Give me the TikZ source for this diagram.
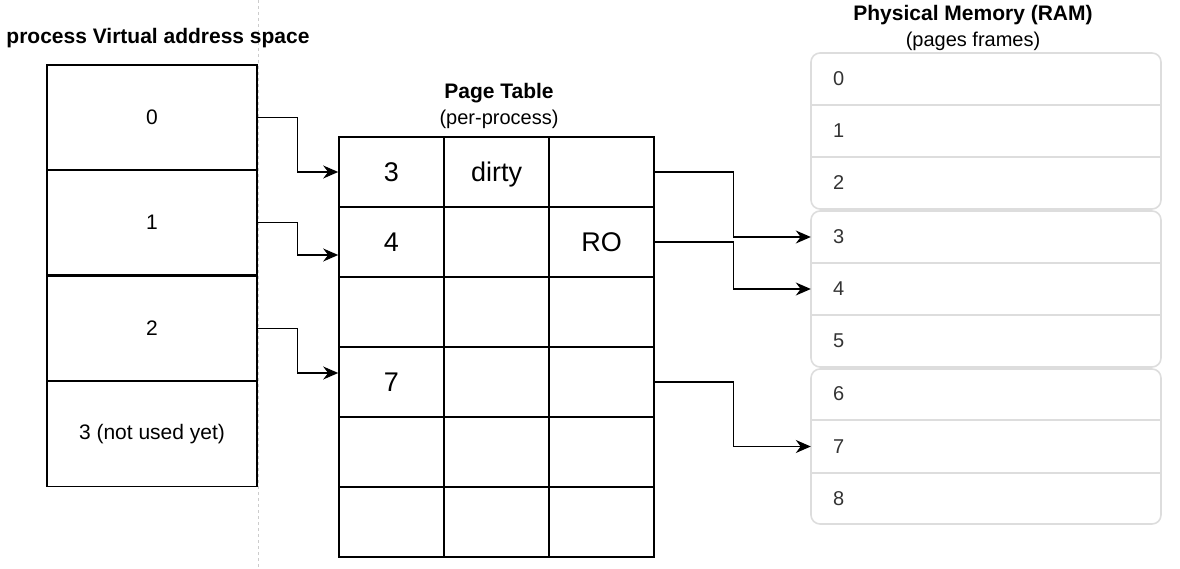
\documentclass[tikz,border=0pt]{standalone}
\usepackage{fontspec}
\setmainfont{Liberation Sans}
\usetikzlibrary{arrows.meta,positioning}
\definecolor{framegray}{HTML}{DDDDDD}
\definecolor{textgray}{HTML}{333333}
\tikzset{
  title/.style={font=\fontsize{21}{25}\selectfont\bfseries, inner sep=0pt},
  subtitle/.style={font=\fontsize{20}{24}\selectfont, inner sep=0pt},
  vbox/.style={draw, line width=1.6pt, minimum width=210pt, minimum height=105pt, inner sep=0pt, font=\fontsize{21}{25}\selectfont},
  cell/.style={draw, line width=1.6pt, minimum width=105pt, minimum height=70pt, inner sep=0pt, text height=22pt, text depth=3pt, font=\fontsize{27}{31}\selectfont},
  group/.style={draw=framegray, line width=1.6pt, rounded corners=9pt, minimum width=350pt, inner sep=0pt},
  frame/.style={minimum width=350pt, minimum height=52pt, inner xsep=22pt, inner ysep=0pt, text width=306pt, align=left, text=textgray, font=\fontsize{20}{24}\selectfont},
  arr/.style={line width=1.3pt, -{Stealth[length=15pt,width=13pt]}}
}
\begin{document}
\begin{tikzpicture}[x=1pt,y=-1pt]
\useasboundingbox (0,0) rectangle (1180,569);
\draw[gray!40, line width=0.8pt, dash pattern=on 3pt off 3pt] (258,0) -- (258,569);

% virtual address space
\node[title] (vtitle) at (158,38) {process Virtual address space};
\node[vbox] (v0) at (152,117.5) {0};
\node[vbox] (v1) at (152,222.5) {1};
\node[vbox] (v2) at (152,328.5) {2};
\node[vbox] (v3) at (152,434) {3 (not used yet)};

% page table
\node[title] (pttitle) at (499,93) {Page Table};
\node[subtitle] (ptsub) at (499,119) {(per-process)};
\foreach \r/\a/\b/\d in {0/3/dirty/,1/4//RO,2///,3/7//,4///,5///} {
  \node[cell] (c\r0) at (391.5,{172+70*\r}) {\a};
  \node[cell] (c\r1) at (496.5,{172+70*\r}) {\b};
  \node[cell] (c\r2) at (601.5,{172+70*\r}) {\d};
}

% physical memory
\node[title] (mtitle) at (973,15) {Physical Memory (RAM)};
\node[subtitle] (msub) at (973,41) {(pages frames)};
\node[group, minimum height=156pt] (g1) at (986,131) {};
\node[group, minimum height=156pt] (g2) at (986,289) {};
\node[group, minimum height=155pt] (g3) at (986,446.5) {};
\foreach \i/\y in {0/79,1/131,2/183,3/237,4/289,5/341,6/394,7/446.5,8/498.5}
  \node[frame] (m\i) at (986,\y) {\i};
\foreach \i in {0,1,3,4,6,7}
  \draw[framegray, line width=1.6pt] (m\i.south west) -- (m\i.south east);

% mappings
\draw[arr] (v0.east) -- ++(40,0) |- (c00.west);
\draw[arr] (v1.east) -- ++(40,0) |- ([yshift=-13pt]c10.west);
\draw[arr] (v2.east) -- ++(40,0) |- ([yshift=9pt]c30.west);
\draw[arr] (c02.east) -- ++(79,0) |- (m3.west);
\draw[arr] (c12.east) -- ++(79,0) |- (m4.west);
\draw[arr] (c32.east) -- ++(79,0) |- (m7.west);
\end{tikzpicture}
\end{document}
